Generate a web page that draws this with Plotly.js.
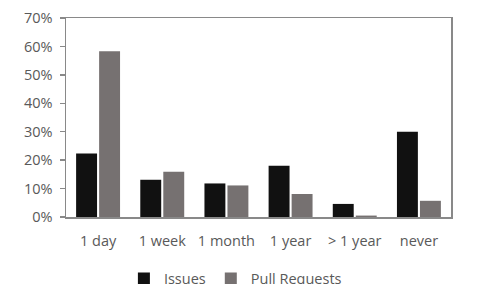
<!DOCTYPE html>
<html><head><meta charset="utf-8">
<script src="https://cdn.plot.ly/plotly-3.0.1.min.js"></script>
<style>html,body{margin:0;padding:0;background:#fff}#c{width:479px;height:284px}</style>
</head><body><div id="c"></div>
<script>
const categories = ["1 day", "1 week", "1 month", "1 year", "> 1 year", "never"];
const issues = [0.223, 0.131, 0.118, 0.180, 0.046, 0.300];
const pullRequests = [0.583, 0.159, 0.111, 0.081, 0.005, 0.057];
const yTickVals = [0, 0.1, 0.2, 0.3, 0.4, 0.5, 0.6, 0.7];
const yTickText = ["0%", "10%", "20%", "30%", "40%", "50%", "60%", "70%"];

const font = {family: "Open Sans, sans-serif", size: 14.5, color: "#595959"};
const data = [
  {type: "bar", name: "Issues", x: categories, y: issues, marker: {color: "#111111"}},
  {type: "bar", name: "Pull Requests", x: categories, y: pullRequests, marker: {color: "#767171"}}
];
const layout = {
  width: 479, height: 284,
  margin: {l: 66, r: 28, t: 18, b: 66.5, autoexpand: false},
  paper_bgcolor: "#fff", plot_bgcolor: "#fff",
  font: font,
  barmode: "group", bargap: 0.283, bargroupgap: 0.09,
  showlegend: true,
  legend: {orientation: "h", x: 0.44, xanchor: "center", y: -0.31, yanchor: "middle",
           font: font, traceorder: "normal"},
  xaxis: {showline: true, linecolor: "#898989", linewidth: 1.5, mirror: true, ticks: "", showgrid: false,
          tickangle: 0, tickfont: font, ticklabelstandoff: 10, fixedrange: true, automargin: false},
  yaxis: {range: [0, 0.7], tickvals: yTickVals, ticktext: yTickText, showline: true, linecolor: "#898989",
          linewidth: 1.5, mirror: true, ticks: "outside", ticklen: 5, tickcolor: "#898989", tickwidth: 1.5,
          showgrid: false, zeroline: false, tickfont: font, ticklabelstandoff: 4, fixedrange: true, automargin: false}
};
Plotly.newPlot("c", data, layout, {displayModeBar: false, staticPlot: true});
</script></body></html>
